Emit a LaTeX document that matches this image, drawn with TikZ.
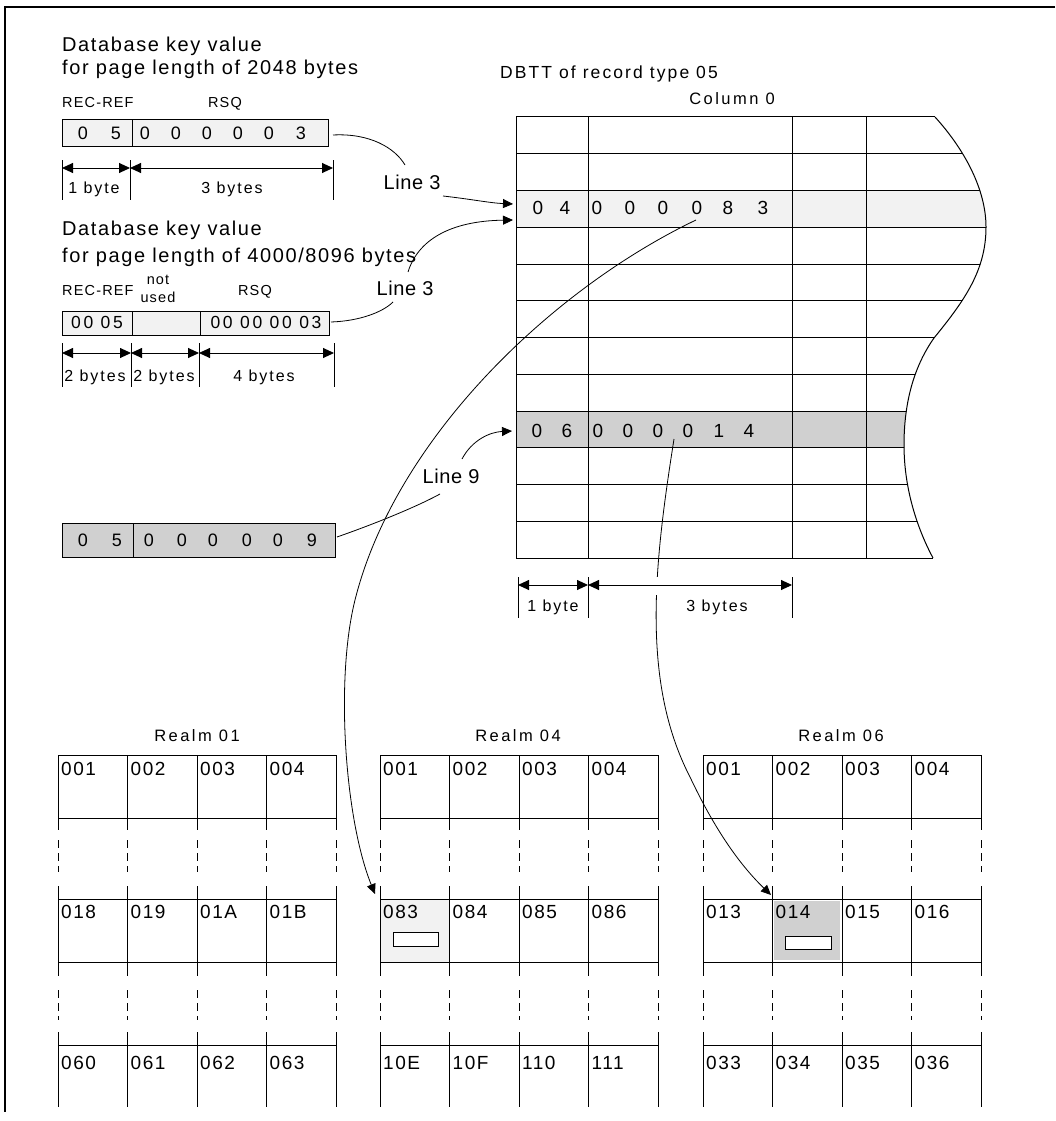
\documentclass[tikz,border=0pt]{standalone}
\usepackage{fontspec}
\setmainfont{Liberation Sans}
\newfontfamily\fsz[LetterSpace=3]{Liberation Sans}
\newfontfamily\fsa[LetterSpace=8]{Liberation Sans}
\newfontfamily\fsb[LetterSpace=12]{Liberation Sans}
\newfontfamily\fsc[LetterSpace=15]{Liberation Sans}
\usetikzlibrary{arrows.meta}
\definecolor{lightg}{HTML}{F2F2F2}
\definecolor{midg}{HTML}{D0D0D0}
\tikzset{
  x=1pt, y=-1pt,
  frame/.style={line width=1.2pt},
  grid/.style={line width=1pt},
  conn/.style={line width=0.8pt},
  tri/.style={-{Triangle[length=10pt,width=9pt]}},
  dim/.style={{Triangle[length=11pt,width=10pt]}-{Triangle[length=11pt,width=10pt]}, line width=0.9pt},
  tickline/.style={line width=0.8pt},
  ttl/.style={font=\fsa\fontsize{20}{24}\selectfont, anchor=base west, inner sep=0pt},
  sml/.style={font=\fsa\fontsize{14.5}{16}\selectfont, anchor=base west, inner sep=0pt},
  dig/.style={font=\fsa\fontsize{18}{21}\selectfont, anchor=base, inner sep=0pt},
  bigdig/.style={font=\fsa\fontsize{19}{22}\selectfont, anchor=base, inner sep=0pt},
  wdig/.style={font=\fsc\fontsize{17.5}{20}\selectfont, anchor=base, inner sep=0pt},
  byt/.style={font=\fsb\fontsize{16}{19}\selectfont, anchor=base, inner sep=0pt},
  hdr/.style={font=\fsc\fontsize{16.5}{19}\selectfont, anchor=base, inner sep=0pt},
  dbt/.style={font=\fsb\fontsize{17.5}{20}\selectfont, anchor=base west, inner sep=0pt},
  cell/.style={font=\fsa\fontsize{19}{22}\selectfont, anchor=base west, inner sep=0pt},
  linelbl/.style={font=\fsz\fontsize{20}{24}\selectfont, anchor=base, inner sep=0pt},
}
\newcommand\realmgrid[1]{%
  \foreach \i in {0,...,4}{%
    \pgfmathsetmacro\xx{#1+\i*69.5}%
    \draw[grid] (\xx,755) -- (\xx,830);
    \draw[grid,dash pattern=on 8pt off 5pt] (\xx,840) -- (\xx,872);
    \draw[grid] (\xx,886) -- (\xx,976);
    \draw[grid,dash pattern=on 8pt off 5pt] (\xx,990) -- (\xx,1020);
    \draw[grid] (\xx,1032) -- (\xx,1107);
  }
  \foreach \yy in {755,818,899,962,1045}{\draw[grid] (#1,\yy) -- ({#1+278},\yy);}
}
\newcommand\realmlabels[4]{%
  \foreach \t [count=\c] in {#2}{\node[cell] at ({#1+(\c-1)*69.5+3},775) {\t};}
  \foreach \t [count=\c] in {#3}{\node[cell] at ({#1+(\c-1)*69.5+3},918) {\t};}
  \foreach \t [count=\c] in {#4}{\node[cell] at ({#1+(\c-1)*69.5+3},1069) {\t};}
}
\begin{document}
\begin{tikzpicture}
\useasboundingbox (0,0) rectangle (1055,1121);
\draw[frame] (1055,7) -- (5,7) -- (5,1112);

% ---------- key value 2048 ----------
\node[ttl] (t1a) at (62,52) {Database key value};
\node[ttl] (t1b) at (62,75) {for page length of 2048 bytes};
\node[sml] (rr1) at (62,108) {REC-REF};
\node[sml,anchor=base] (rsq1) at (225,108) {RSQ};
\draw[grid,fill=lightg] (62,120) rectangle (328,146);
\draw[grid] (132,120) -- (132,146);
\foreach \d/\xx in {0/83,5/116,0/145,0/176,0/207,0/238,0/269,3/301}{\node[dig] at (\xx,139.5) {\d};}
\draw[tickline] (62,160) -- (62,200);
\draw[tickline] (130,160) -- (130,200);
\draw[tickline] (333,160) -- (333,200);
\draw[dim] (62,168) -- (130,168);
\draw[dim] (130,168) -- (333,168);
\node[byt] (b1) at (94,193) {1 byte};
\node[byt] (b2) at (232,193) {3 bytes};

% ---------- key value 4000/8096 ----------
\node[ttl] (t2a) at (62,235) {Database key value};
\node[ttl] (t2b) at (62,262) {for page length of 4000/8096 bytes};
\node[sml] (rr2) at (62,295) {REC-REF};
\node[sml,anchor=base] (nu1) at (158,284) {not};
\node[sml,anchor=base] (nu2) at (158,302) {used};
\node[sml,anchor=base] (rsq2) at (255,295) {RSQ};
\draw[grid,fill=lightg] (62,311) rectangle (329,335);
\draw[grid] (132,311) -- (132,335);
\draw[grid] (200,311) -- (200,335);
\node[wdig] (v1) at (97,328.5) {00 05};
\node[wdig] (v2) at (266,328.5) {00 00 00 03};
\foreach \xx in {62,131,199,334}{\draw[tickline] (\xx,343) -- (\xx,387);}
\draw[dim] (62,353) -- (131,353);
\draw[dim] (131,353) -- (199,353);
\draw[dim] (199,353) -- (334,353);
\node[byt] (b3) at (95,381) {2 bytes};
\node[byt] (b4) at (164,381) {2 bytes};
\node[byt] (b5) at (264,381) {4 bytes};

% ---------- grey key ----------
\draw[grid,fill=midg] (62,523) rectangle (335,557);
\draw[grid] (133,523) -- (133,557);
\foreach \d/\xx in {0/83,5/117,0/149,0/182,0/213,0/247,0/278,9/312}{\node[dig] at (\xx,546.5) {\d};}

% ---------- DBTT ----------
\node[dbt] (dbtt) at (500,79) {DBTT of record type 05};
\node[hdr] (col0) at (732,105) {Column 0};
\begin{scope}
\clip (516,117) -- (935,117) .. controls (965,150) and (986,190) .. (986,227)
  .. controls (986,270) and (965,300) .. (934,338)
  .. controls (915,365) and (904,400) .. (904,445)
  .. controls (904,490) and (918,530) .. (933,558) -- (516,558) -- cycle;
\fill[lightg] (516,190.5) rectangle (1000,227.25);
\fill[midg] (516,411) rectangle (1000,447.75);
\foreach \k in {1,...,11}{\draw[grid] (516,{117+\k*36.75}) -- (1000,{117+\k*36.75});}
\end{scope}
\draw[grid] (516,117) -- (935,117);
\draw[grid] (516,558) -- (933,558);
\draw[grid] (935,117) .. controls (965,150) and (986,190) .. (986,227)
  .. controls (986,270) and (965,300) .. (934,338)
  .. controls (915,365) and (904,400) .. (904,445)
  .. controls (904,490) and (918,530) .. (933,558);
\foreach \xx in {516,588,792,866}{\draw[grid] (\xx,117) -- (\xx,558);}
\foreach \d/\xx in {0/538,4/565,0/597,0/630,0/663,0/697,8/728,3/763}{\node[bigdig] at (\xx,214) {\d};}
\foreach \d/\xx in {0/537,6/567,0/598,0/628,0/658,0/688,1/719,4/749}{\node[bigdig] at (\xx,437) {\d};}

% ---------- line labels and connectors ----------
\node[linelbl] (line3a) at (412,189) {Line 3};
\node[linelbl] (line3b) at (405,295) {Line 3};
\node[linelbl] (line9) at (451,483) {Line 9};
\coordinate (k1e) at (333,135);
\coordinate (l3atop) at (405,165);
\coordinate (l3abot) at (443,196);
\coordinate (r3a) at (513,204);
\coordinate (k2e) at (331,322);
\coordinate (l3bbot) at (393,302);
\coordinate (l3btop) at (408,272);
\coordinate (r3b) at (513,220);
\coordinate (k3e) at (337,537);
\coordinate (l9bot) at (440,494);
\coordinate (l9top) at (462,459);
\coordinate (r9) at (512,431);
\draw[conn] (k1e) .. controls (370,133) and (395,148) .. (l3atop);
\draw[conn,tri] (l3abot) .. controls (470,199) and (490,203) .. (r3a);
\draw[conn] (k2e) .. controls (360,321) and (383,312) .. (l3bbot);
\draw[conn,tri] (l3btop) .. controls (418,240) and (450,221) .. (r3b);
\draw[conn] (k3e) .. controls (380,522) and (420,505) .. (l9bot);
\draw[conn,tri] (l9top) .. controls (472,440) and (490,432) .. (r9);

% ---------- realms ----------
\fill[lightg] (380,899) rectangle (449,962);
\fill[midg] (774,901) rectangle (840,960);
\realmgrid{58}
\realmgrid{380}
\realmgrid{703}
\node[hdr] (realm1) at (197,741) {Realm 01};
\node[hdr] (realm4) at (518,741) {Realm 04};
\node[hdr] (realm6) at (841,741) {Realm 06};
\realmlabels{58}{001,002,003,004}{018,019,01A,01B}{060,061,062,063}
\realmlabels{380}{001,002,003,004}{083,084,085,086}{10E,10F,110,111}
\realmlabels{703}{001,002,003,004}{013,014,015,016}{033,034,035,036}
\draw[line width=0.8pt,fill=white] (393,932) rectangle (438,946);
\draw[line width=0.8pt,fill=white] (785,936) rectangle (831,949);

% ---------- long connectors ----------
\coordinate (d3) at (696,220);
\coordinate (c083) at (375,894);
\coordinate (d9) at (674,439);
\coordinate (c014) at (771,895);
\draw[conn,tri] (d3) .. controls (550,290) and (395,440) .. (355,600)
  .. controls (335,680) and (345,820) .. (c083);
\draw[conn,tri] (d9) .. controls (655,560) and (640,680) .. (690,777)
  .. controls (715,830) and (740,865) .. (c014);
\fill[white] (645,577) rectangle (670,595);

% ---------- DBTT byte dimensions ----------
\foreach \xx in {518,588,792}{\draw[tickline] (\xx,577) -- (\xx,618);}
\draw[dim] (518,585) -- (588,585);
\draw[dim] (588,585) -- (792,585);
\node[byt] (b6) at (553,611) {1 byte};
\node[byt] (b7) at (717,611) {3 bytes};
\end{tikzpicture}
\end{document}
